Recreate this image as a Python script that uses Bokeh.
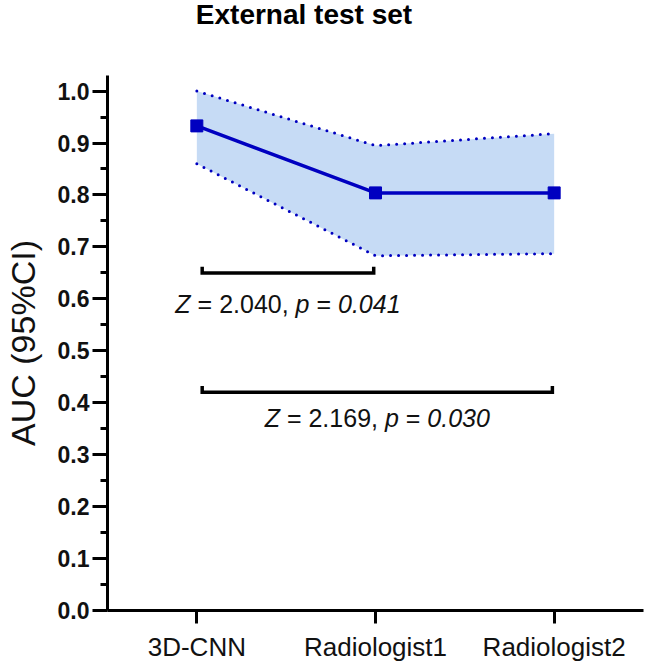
from bokeh.plotting import figure
from bokeh.layouts import column
from bokeh.models import Range1d, FixedTicker, NumeralTickFormatter, ColumnDataSource, Div
from bokeh.core.properties import value
from bokeh.embed import file_html
from bokeh.resources import INLINE

# ---------------- data ----------------
categories = ["3D-CNN", "Radiologist1", "Radiologist2"]
auc = [0.933, 0.804, 0.804]
ci_lower = [0.860, 0.683, 0.687]
ci_upper = [1.000, 0.895, 0.918]

y_ticks = [0.0, 0.1, 0.2, 0.3, 0.4, 0.5, 0.6, 0.7, 0.8, 0.9, 1.0]
y_minor = [0.05, 0.15, 0.25, 0.35, 0.45, 0.55, 0.65, 0.75, 0.85, 0.95]

# pairwise comparisons (DeLong): from-category, to-category, bracket level, Z, p
cmp_from = ["3D-CNN", "3D-CNN"]
cmp_to = ["Radiologist1", "Radiologist2"]
cmp_level = [0.65, 0.42]
cmp_z = ["2.040", "2.169"]
cmp_p = ["0.041", "0.030"]

title_text = "External test set"

# ---------------- style ----------------
FONT = "Liberation Sans"
BLUE = "#0000C0"
FILL = "#C6DBF5"
ANN_SIZE = 25
text_gap = [31, 26]          # px below each bracket
bracket_inset_left = 0.03
bracket_inset_right = -0.01
tip = 0.012
W_FIG = 645
TITLE_H = 34
H_FIG = 666 - TITLE_H
LEFT, RIGHT, TOP, BOTTOM = 107, 2, 75 - TITLE_H, 56

xpos = {c: i + 1 for i, c in enumerate(categories)}
xs = [xpos[c] for c in categories]

title = Div(text=title_text, width=608, height=TITLE_H,
            styles={"font-family": FONT, "font-size": "28px", "font-weight": "bold",
                    "color": "black", "text-align": "center", "line-height": "30px",
                    "margin": "0", "padding": "0"})

p = figure(width=W_FIG, height=H_FIG, output_backend="svg", toolbar_location=None,
           x_range=Range1d(0.5, len(categories) + 0.5), y_range=Range1d(0, 1.03),
           min_border_left=LEFT, min_border_right=RIGHT, min_border_top=TOP,
           min_border_bottom=BOTTOM)
p.outline_line_color = None
p.xgrid.visible = False
p.ygrid.visible = False
p.background_fill_color = "white"
p.border_fill_color = "white"

# CI band
src = ColumnDataSource(dict(x=xs, auc=auc, lo=ci_lower, hi=ci_upper))
p.varea(x="x", y1="lo", y2="hi", source=src, fill_color=FILL, fill_alpha=1.0)
for col in ("lo", "hi"):
    p.line(x="x", y=col, source=src, line_color=BLUE, line_width=3,
           line_dash="0 8", line_cap="round")
p.line(x="x", y="auc", source=src, line_color=BLUE, line_width=3.5)
p.scatter(x="x", y="auc", source=src, marker="square", size=12,
          fill_color=BLUE, line_color=BLUE)

# brackets and annotations (mixed italic / upright runs)
W = {"Z": 611, " ": 278, "=": 584, ".": 278, ",": 278, "p": 556}
def tw(s):
    return sum(W.get(ch, 556) for ch in s) / 1000.0 * ANN_SIZE

for i in range(len(cmp_level)):
    x0 = xpos[cmp_from[i]] + bracket_inset_left
    x1 = xpos[cmp_to[i]] + bracket_inset_right
    yl = cmp_level[i]
    p.line([x0, x0, x1, x1], [yl + tip, yl, yl, yl + tip], line_color="black",
           line_width=3.5, line_join="miter")
    segs = [("Z", "italic"), (" = " + cmp_z[i] + ", ", "normal"), ("p", "italic"),
            (" = ", "normal"), (cmp_p[i], "italic")]
    total = sum(tw(s) for s, _ in segs)
    off = -total / 2.0
    xc = (x0 + x1) / 2.0
    for s, st in segs:
        lead = len(s) - len(s.lstrip(" "))
        core = s.strip(" ")
        p.text(x=[xc], y=[yl], text=[core], x_offset=off + tw(" " * lead), y_offset=text_gap[i],
               text_font=value(FONT), text_font_size=f"{ANN_SIZE}px",
               text_font_style=st, text_align="left", text_baseline="middle",
               text_color="#111111")
        off += tw(s)

# axes
yax = p.yaxis[0]
yax.ticker = FixedTicker(ticks=y_ticks, minor_ticks=y_minor)
yax.formatter = NumeralTickFormatter(format="0.0")
yax.axis_label = "AUC (95%CI)"
yax.axis_label_text_font = FONT
yax.axis_label_text_font_size = "34px"
yax.axis_label_text_font_style = "normal"
yax.axis_label_text_color = "#111111"
yax.axis_label_standoff = 13
yax.major_label_text_font = FONT
yax.major_label_text_font_size = "23px"
yax.major_label_text_font_style = "bold"
yax.major_label_text_color = "#111111"
yax.major_label_standoff = 3
yax.axis_line_width = 3
yax.axis_line_color = "black"
yax.major_tick_line_width = 3
yax.minor_tick_line_width = 3
yax.major_tick_out = 15
yax.major_tick_in = 0
yax.minor_tick_out = 7
yax.minor_tick_in = 0

xax = p.xaxis[0]
xax.ticker = FixedTicker(ticks=xs, minor_ticks=[])
xax.major_label_overrides = {x: c for x, c in zip(xs, categories)}
xax.major_label_text_font = FONT
xax.major_label_text_font_size = "26px"
xax.major_label_text_color = "#111111"
xax.major_label_standoff = 8
xax.axis_line_width = 3
xax.axis_line_color = "black"
xax.major_tick_line_width = 3
xax.major_tick_out = 13
xax.major_tick_in = 0

layout = column(title, p, spacing=0)
open("out.html", "w").write(file_html(layout, INLINE))
